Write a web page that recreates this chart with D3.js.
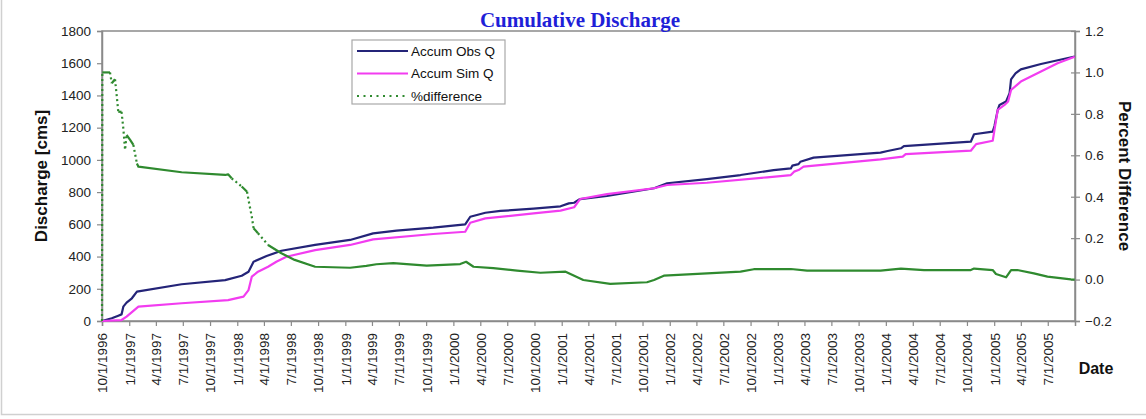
<!DOCTYPE html>
<html>
<head>
<meta charset="utf-8">
<script src="https://cdn.jsdelivr.net/npm/d3@7"></script>
<style>
  html, body { margin: 0; padding: 0; background: #fff; }
  svg { display: block; }
  text { font-family: "Liberation Sans", Arial, sans-serif; }
</style>
</head>
<body>
<svg id="chart" width="1146" height="419"></svg>
<script>
// Accumulated observed discharge (cms)
const obsDates = ["1996-10-01","1996-11-03","1996-11-25","1996-12-06","1996-12-12","1996-12-23","1997-01-10","1997-01-27",
  "1997-06-27","1997-11-21","1998-01-16","1998-02-08","1998-02-25","1998-04-10","1998-05-30","1998-09-21",
  "1999-01-17","1999-04-05","1999-06-23","1999-10-25","2000-02-10","2000-02-27","2000-04-18","2000-06-08",
  "2000-09-28","2000-12-28","2001-01-25","2001-02-12","2001-03-04","2001-06-03","2001-11-09","2001-12-23",
  "2002-05-07","2002-08-28","2002-12-18","2003-02-14","2003-02-19","2003-03-12","2003-03-18","2003-05-02",
  "2003-12-14","2004-01-07","2004-02-21","2004-03-02","2004-10-14","2004-10-25","2004-12-27","2005-01-02",
  "2005-01-13","2005-01-19","2005-02-10","2005-02-22","2005-02-27","2005-03-14","2005-04-01","2005-06-08","2005-09-30"];
const obsValues = [0,17,33,41,89,114,141,182,
  228,254,281,306,368,403,436,472,
  503,544,561,579,600,647,672,683,
  697,712,730,734,757,776,824,855,
  881,906,937,947,964,974,988,1014,
  1045,1055,1072,1086,1113,1159,1175,1210,
  1310,1341,1362,1414,1500,1537,1562,1595,1642];

// Accumulated simulated discharge (cms)
const simDates = ["1996-10-01","1996-12-06","1996-12-23","1997-02-01","1997-06-27","1997-12-01","1998-01-22","1998-02-08",
  "1998-02-19","1998-03-12","1998-04-15","1998-05-13","1998-06-16","1998-09-21","1999-01-17","1999-04-05",
  "1999-10-25","2000-02-10","2000-02-27","2000-04-18","2000-09-28","2000-12-28","2001-02-12","2001-03-04",
  "2001-06-03","2001-11-09","2001-12-23","2002-05-07","2002-11-26","2003-02-14","2003-02-25","2003-03-12",
  "2003-03-29","2003-12-14","2004-02-27","2004-03-08","2004-10-14","2004-11-01","2004-12-27","2005-01-02",
  "2005-01-13","2005-02-05","2005-02-17","2005-02-27","2005-04-01","2005-06-08","2005-08-03","2005-09-30"];
const simValues = [0,6,27,89,110,130,151,192,
  275,306,337,368,399,440,472,507,
  540,554,610,637,668,685,706,757,
  788,824,844,858,892,906,927,937,
  958,1003,1020,1036,1057,1098,1119,1186,
  1310,1341,1362,1434,1486,1548,1600,1640];

// Percent difference between observed and simulated totals
const pctDates = ["1996-10-01","1996-10-02","1996-10-28","1996-11-03","1996-11-14","1996-11-20","1996-11-25","1996-12-06",
  "1996-12-12","1996-12-18","1996-12-23","1997-01-04","1997-01-15","1997-01-27","1997-02-01","1997-06-27",
  "1997-11-21","1997-12-01","1997-12-13","1998-01-16","1998-02-03","1998-02-08","1998-02-19","1998-02-25",
  "1998-03-12","1998-04-15","1998-05-30","1998-07-14","1998-09-21","1999-01-17","1999-03-13","1999-04-16",
  "1999-06-12","1999-10-03","2000-01-24","2000-02-13","2000-03-09","2000-05-15","2000-08-03","2000-10-21",
  "2001-01-14","2001-03-15","2001-06-14","2001-10-16","2001-11-09","2001-12-12","2002-05-07","2002-08-28",
  "2002-10-12","2003-02-14","2003-04-10","2003-12-14","2004-02-21","2004-05-09","2004-10-14","2004-10-25",
  "2004-12-27","2005-01-07","2005-02-10","2005-02-27","2005-03-20","2005-05-15","2005-06-30","2005-09-17","2005-09-30"];
const pctValues = [-0.2,1.0,1.0,0.948,0.967,0.883,0.81,0.81,
  0.73,0.626,0.698,0.674,0.65,0.56,0.545,0.518,
  0.505,0.508,0.489,0.449,0.424,0.384,0.304,0.248,
  0.224,0.167,0.127,0.095,0.062,0.057,0.066,0.074,
  0.079,0.067,0.075,0.086,0.062,0.055,0.043,0.033,
  0.038,-0.002,-0.021,-0.013,-0.002,0.019,0.03,0.038,
  0.05,0.051,0.043,0.043,0.053,0.046,0.046,0.053,
  0.046,0.027,0.011,0.046,0.046,0.03,0.014,0.001,0.0];

const leftTicks = [0,200,400,600,800,1000,1200,1400,1600,1800];
const rightTicks = [-0.2,0.0,0.2,0.4,0.6,0.8,1.0,1.2];
const seriesNames = ["Accum Obs Q","Accum Sim Q","%difference"];

const parse = d3.timeParse("%Y-%m-%d");
const fmtDate = d3.timeFormat("%-m/%-d/%Y");

const svg = d3.select("#chart");
const M = { left: 102, right: 1075, top: 31, bottom: 321 };

const colObs = "#242478", colSim = "#f23cf0", colPct = "#2f8a2f", frame = "#8a8a8a";

// outer chart border
svg.append("rect").attr("x", 1.5).attr("y", -2).attr("width", 1150).attr("height", 416.5)
  .attr("fill", "none").attr("stroke", "#d0d0d0").attr("stroke-width", 1.5);

const x = d3.scaleTime()
  .domain([parse("1996-10-01"), parse("2005-10-01")])
  .range([M.left, M.right]);
const yL = d3.scaleLinear().domain([0, 1800]).range([M.bottom, M.top]);
const yR = d3.scaleLinear().domain([-0.2, 1.2]).range([M.bottom, M.top]);

// plot frame
svg.append("rect").attr("x", M.left).attr("y", M.top)
  .attr("width", M.right - M.left).attr("height", M.bottom - M.top)
  .attr("fill", "none").attr("stroke", frame).attr("stroke-width", 1.5);

// left axis
const gL = svg.append("g").attr("transform", `translate(${M.left},0)`)
  .call(d3.axisLeft(yL).tickValues(leftTicks).tickSize(5).tickPadding(6).tickFormat(d3.format("d")));
// right axis
const gR = svg.append("g").attr("transform", `translate(${M.right},0)`)
  .call(d3.axisRight(yR).tickValues(rightTicks).tickSize(5).tickPadding(5).tickFormat(d3.format(".1f")));
gR.selectAll(".tick line").attr("x1", -4);
// bottom axis
const qTicks = d3.timeMonth.every(3).range(parse("1996-10-01"), parse("2005-08-01"));
const gB = svg.append("g").attr("transform", `translate(0,${M.bottom})`)
  .call(d3.axisBottom(x).tickValues(qTicks).tickSize(5).tickFormat(fmtDate));
gB.selectAll(".tick text")
  .attr("transform", "rotate(-90)")
  .attr("text-anchor", "end")
  .attr("x", -12).attr("y", 0).attr("dy", "0.36em");

[gL, gR, gB].forEach(g => {
  g.select(".domain").attr("stroke", frame).attr("stroke-width", 1.5);
  g.selectAll(".tick line").attr("stroke", frame).attr("stroke-width", 1.2);
  g.selectAll(".tick text").attr("fill", "#222").style("font-size", "13.5px")
    .style("font-family", "'Liberation Sans', Arial, sans-serif");
});

// series
const obs = obsDates.map((d, i) => ({ t: parse(d), v: obsValues[i] }));
const sim = simDates.map((d, i) => ({ t: parse(d), v: simValues[i] }));
const pct = pctDates.map((d, i) => ({ t: parse(d), v: pctValues[i] }));

const lineL = d3.line().x(d => x(d.t)).y(d => yL(d.v));
svg.append("path").datum(obs).attr("d", lineL)
  .attr("fill", "none").attr("stroke", colObs).attr("stroke-width", 2.2).attr("stroke-linejoin", "round");
svg.append("path").datum(sim).attr("d", lineL)
  .attr("fill", "none").attr("stroke", colSim).attr("stroke-width", 2.2).attr("stroke-linejoin", "round");

// percent difference: steep stretches render as dotted, gentle ones as solid
const lineR = d3.line().x(d => x(d.t)).y(d => yR(d.v));
const runs = [];
for (let i = 1; i < pct.length; i++) {
  const a = pct[i - 1], b = pct[i];
  const dx = Math.abs(x(b.t) - x(a.t)), dy = Math.abs(yR(b.v) - yR(a.v));
  const dotted = dy > 8 && dy / Math.max(dx, 0.01) > 0.75;
  const last = runs[runs.length - 1];
  if (last && last.dotted === dotted) last.pts.push(b);
  else runs.push({ dotted, pts: [a, b] });
}
runs.forEach(r => {
  svg.append("path").datum(r.pts).attr("d", lineR)
    .attr("fill", "none").attr("stroke", colPct).attr("stroke-width", 2.2)
    .attr("stroke-dasharray", r.dotted ? "2,3" : null).attr("stroke-linejoin", "round");
});

// title
svg.append("text").attr("x", 580).attr("y", 27).attr("text-anchor", "middle")
  .style("font-family", "'Liberation Serif', 'Times New Roman', serif")
  .style("font-size", "21px").style("font-weight", "bold").attr("fill", "#1f1fd8")
  .text("Cumulative Discharge");

// axis titles
svg.append("text").attr("transform", `translate(47,${(M.top + M.bottom) / 2}) rotate(-90)`)
  .attr("text-anchor", "middle").style("font-size", "17px").style("font-weight", "bold").attr("fill", "#111")
  .text("Discharge [cms]");
svg.append("text").attr("transform", `translate(1119,${(M.top + M.bottom) / 2}) rotate(90)`)
  .attr("text-anchor", "middle").style("font-size", "17px").style("font-weight", "bold").attr("fill", "#111")
  .text("Percent Difference");
svg.append("text").attr("x", 1096).attr("y", 374).attr("text-anchor", "middle")
  .style("font-size", "16px").style("font-weight", "bold").attr("fill", "#111").text("Date");

// legend
const lg = svg.append("g").attr("transform", "translate(352,40)");
lg.append("rect").attr("width", 153).attr("height", 64).attr("fill", "#fff")
  .attr("stroke", "#a8a8a8").attr("stroke-width", 1.2);
const legendStyles = [
  { c: colObs, dash: null }, { c: colSim, dash: null }, { c: colPct, dash: "2,4.5" }
];
seriesNames.forEach((name, i) => {
  const yy = 11 + i * 22.5;
  lg.append("line").attr("x1", 5).attr("x2", 56).attr("y1", yy).attr("y2", yy)
    .attr("stroke", legendStyles[i].c).attr("stroke-width", 2)
    .attr("stroke-dasharray", legendStyles[i].dash);
  lg.append("text").attr("x", 59).attr("y", yy).attr("dy", "0.36em")
    .style("font-size", "13.5px").attr("fill", "#111").text(name);
});
</script>
</body>
</html>
